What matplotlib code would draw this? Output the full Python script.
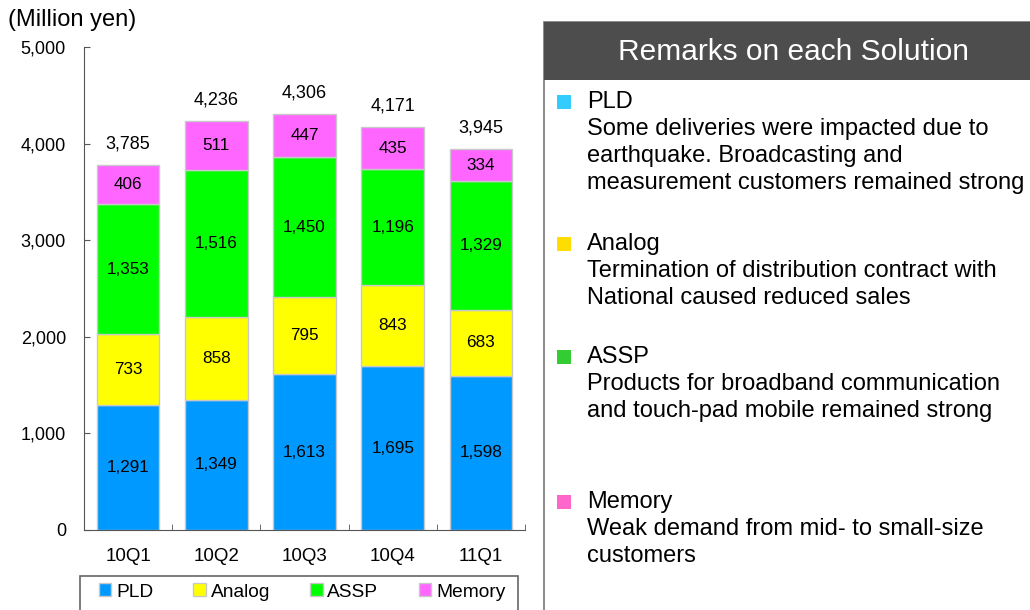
import matplotlib.pyplot as plt
from matplotlib.patches import Rectangle

plt.rcParams["font.family"] = ["Liberation Sans", "DejaVu Sans"]

quarters = ["10Q1", "10Q2", "10Q3", "10Q4", "11Q1"]
pld = [1291, 1349, 1613, 1695, 1598]
analog = [733, 858, 795, 843, 683]
assp = [1353, 1516, 1450, 1196, 1329]
memory = [406, 511, 447, 435, 334]
totals = [3785, 4236, 4306, 4171, 3945]

series_names = ["PLD", "Analog", "ASSP", "Memory"]
bar_colors = ["#0099ff", "#ffff00", "#00ff00", "#ff66ff"]
bullet_colors = ["#33ccff", "#ffdd00", "#33cc33", "#ff66cc"]
remarks = [
    "Some deliveries were impacted due to\nearthquake. Broadcasting and\nmeasurement customers remained strong",
    "Termination of distribution contract with\nNational caused reduced sales",
    "Products for broadband communication\nand touch-pad mobile remained strong",
    "Weak demand from mid- to small-size\ncustomers",
]

W, H = 1030, 610
fig = plt.figure(figsize=(W / 100, H / 100), dpi=100)
ax = fig.add_axes([84 / W, 80 / H, 441 / W, 483 / H])

x = range(len(quarters))
bottom = [0] * len(quarters)
for name, vals, col in zip(series_names, [pld, analog, assp, memory], bar_colors):
    bars = ax.bar(x, vals, 0.71, bottom=bottom, color=col, edgecolor="#c8c8c8",
                  linewidth=1, label=name)
    for b, v, b0 in zip(bars, vals, bottom):
        ax.text(b.get_x() + b.get_width() / 2, b0 + v / 2, f"{v:,}",
                ha="center", va="center", fontsize=12.3, color="black")
    bottom = [b0 + v for b0, v in zip(bottom, vals)]

for i, t in enumerate(totals):
    ax.annotate(f"{t:,}", (i, t), xytext=(0, 15), textcoords="offset points",
                ha="center", va="center", fontsize=13)

ax.set_xlim(-0.5, 4.5)
ax.set_ylim(0, 5000)
ax.set_yticks(range(0, 5001, 1000))
ax.set_yticklabels([f"{v:,}" for v in range(0, 5001, 1000)], fontsize=13)
ax.set_xticks(list(x))
ax.set_xticklabels(quarters, fontsize=13.5)
ax.tick_params(axis="x", length=0, pad=13)
ax.set_xticks([i + 0.5 for i in range(5)], minor=True)
ax.tick_params(axis="x", which="minor", direction="in", length=4, color="#555555")
ax.tick_params(axis="y", direction="in", length=4, color="#555555", pad=13)
for s in ["top", "right"]:
    ax.spines[s].set_visible(False)
for s in ["left", "bottom"]:
    ax.spines[s].set_color("#555555")
fig.text(8 / W, 1 - 20 / H, "(Million yen)", fontsize=17, va="center")

# legend box runs off the bottom edge
fig.add_artist(Rectangle((80 / W, -0.05), 438 / W, 0.05 + 34 / H, transform=fig.transFigure,
                         facecolor="white", edgecolor="#666666", linewidth=1.2))
fig.legend(loc="center", bbox_to_anchor=(302 / W, 1 - 592 / H), ncol=4, fontsize=13.8,
           frameon=False, handlelength=0.65, handleheight=0.65, handletextpad=0.25,
           columnspacing=2.1, borderpad=0, borderaxespad=0)

# right panel, runs off the right and bottom edges
fig.add_artist(Rectangle((544 / W, -0.05), 0.5, 0.05 + (H - 22) / H, transform=fig.transFigure,
                         facecolor="white", edgecolor="#777777", linewidth=1.2))
fig.add_artist(Rectangle((544 / W, 1 - 80 / H), 0.5, 58 / H, transform=fig.transFigure,
                         facecolor="#4d4d4d", edgecolor="none"))
fig.text(793 / W, 1 - 52 / H, "Remarks on each Solution", color="white",
         fontsize=21.5, ha="center", va="center")

heads_y = [102, 244, 357, 502]
for name, col, txt, yy in zip(series_names, bullet_colors, remarks, heads_y):
    fig.add_artist(Rectangle((557 / W, 1 - (yy + 7) / H), 14 / W, 14 / H,
                             transform=fig.transFigure, facecolor=col, edgecolor="none"))
    fig.text(587 / W, 1 - yy / H, name, fontsize=17, va="center")
    fig.text(587 / W, 1 - (yy + 16) / H, txt, fontsize=17, va="top", linespacing=1.3)

fig.savefig("out.png", dpi=100)
